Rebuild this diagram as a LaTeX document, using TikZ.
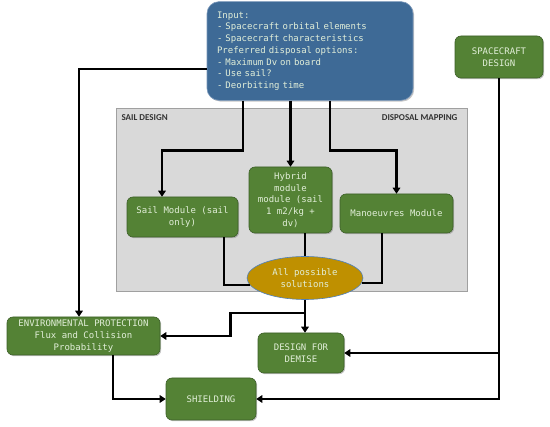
\documentclass[tikz,border=0pt]{standalone}
\usepackage{fontspec}
\setmonofont{DejaVu Sans Mono}
\newfontfamily\panelfont{Carlito}
\usepackage{tikz}
\usetikzlibrary{arrows.meta, shapes.geometric, shadows}
\definecolor {boxgreen}  {RGB}{084, 130, 053}
\definecolor {greenedge} {RGB}{060, 095, 040}
\definecolor {boxtext}   {RGB}{226, 239, 217}
\definecolor {inputblue} {RGB}{062, 106, 150}
\definecolor {blueedge}  {RGB}{120, 150, 185}
\definecolor {gold}      {RGB}{191, 144, 000}
\definecolor {goldedge}  {RGB}{079, 129, 189}
\definecolor {panelgrey} {RGB}{217, 217, 217}
\definecolor {paneledge} {RGB}{160, 160, 160}

\begin{document}
\begin{tikzpicture}[x=1pt, y=-1pt,
	boxtxt/.style={text=boxtext, font=\ttfamily\fontsize{9}{11.7}\selectfont},
	module/.style={boxtxt, draw=greenedge, line width=0.6pt, fill=boxgreen, rounded corners=6pt, align=center, inner sep=2pt,
		drop shadow={shadow xshift=1.2pt, shadow yshift=-1.2pt, opacity=0.45}},
	link/.style={line width=2.4pt},
	arrow/.style={link, -{Triangle[length=6pt, width=7.5pt]}}]

	\useasboundingbox (0, 0) rectangle (550, 427);

	% Draw the grey mapping panel
	\draw[fill=panelgrey, draw=paneledge, line width=0.8pt] (116, 108) rectangle (467, 291);
	\node[anchor=west, font=\panelfont\bfseries\fontsize{9}{10}\selectfont, text=black!80] (saillbl) at (118, 118) {SAIL DESIGN};
	\node[anchor=east, font=\panelfont\bfseries\fontsize{9}{10}\selectfont, text=black!80] (maplbl) at (461, 118) {DISPOSAL MAPPING};

	% Draw boxes
	\node[boxtxt, draw=blueedge, line width=0.6pt, fill=inputblue, rounded corners=12pt, align=left, text width=186pt, inner sep=10pt, minimum height=92pt,
		drop shadow={shadow xshift=1.2pt, shadow yshift=-1.2pt, opacity=0.45}] (input) at (310, 51)
		{Input:\\- Spacecraft orbital elements\\- Spacecraft characteristics\\Preferred disposal options:\\- Maximum Dv on board\\- Use sail?\\- Deorbiting time};

	\node[module, minimum width=88pt, minimum height=42pt] (scdesign) at (499, 57) {SPACECRAFT\\DESIGN};

	\node[module, minimum width=111pt, minimum height=40pt] (sail) at (182.5, 217) {Sail Module (sail\\only)};
	\node[module, minimum width=83pt, minimum height=66pt] (hybrid) at (290.5, 200) {Hybrid\\module\\module (sail\\1 m2/kg +\\dv)};
	\node[module, minimum width=113pt, minimum height=39pt] (manoeuvres) at (396.5, 213.5) {Manoeuvres Module};

	\node[boxtxt, ellipse, draw=goldedge, line width=0.6pt, fill=gold, minimum width=116pt, minimum height=43pt, inner sep=0pt, align=center] (sols) at (305, 278) {All possible\\solutions};

	\node[module, minimum width=153pt, minimum height=38pt] (env) at (83.5, 336) {ENVIRONMENTAL PROTECTION\\Flux and Collision\\Probability};
	\node[module, minimum width=86pt, minimum height=40pt] (demise) at (301, 353) {DESIGN FOR\\DEMISE};
	\node[module, minimum width=90pt, minimum height=42pt] (shield) at (211, 399) {SHIELDING};

	% Draw connectors
	% from the input
	\draw[arrow] ([xshift=-67pt]input.south) -- ++(0, 50) -| ([xshift=-20.5pt]sail.north);
	\draw[arrow] (input.south -| hybrid.north) -- (hybrid.north);
	\draw[arrow] ([xshift=20pt]input.south) -- ++(0, 50) -| (manoeuvres.north);
	\draw[arrow] ([yshift=-18pt]input.west) -| ([xshift=-4.5pt]env.north);

	% into the solutions
	\draw[link] ([xshift=41.5pt]sail.south) |- (sols.187);
	\draw[link] (hybrid.south -| sols.north) -- (sols.north);
	\draw[link] ([xshift=-14.5pt]manoeuvres.south) |- (sols.355);

	% to the lower boxes
	\draw[arrow] (sols.south) -- (sols.south |- demise.north);
	\draw[arrow] (sols.south) -- ++(0, 13) -| ([xshift=70pt]env.east) -- (env.east);
	\draw[arrow] ([xshift=29.5pt]env.south) |- (shield.west);
	\draw[arrow] (scdesign.south) |- (shield.east);
	\draw[arrow] (scdesign.south |- demise.east) -- (demise.east);

\end{tikzpicture}
\end{document}
